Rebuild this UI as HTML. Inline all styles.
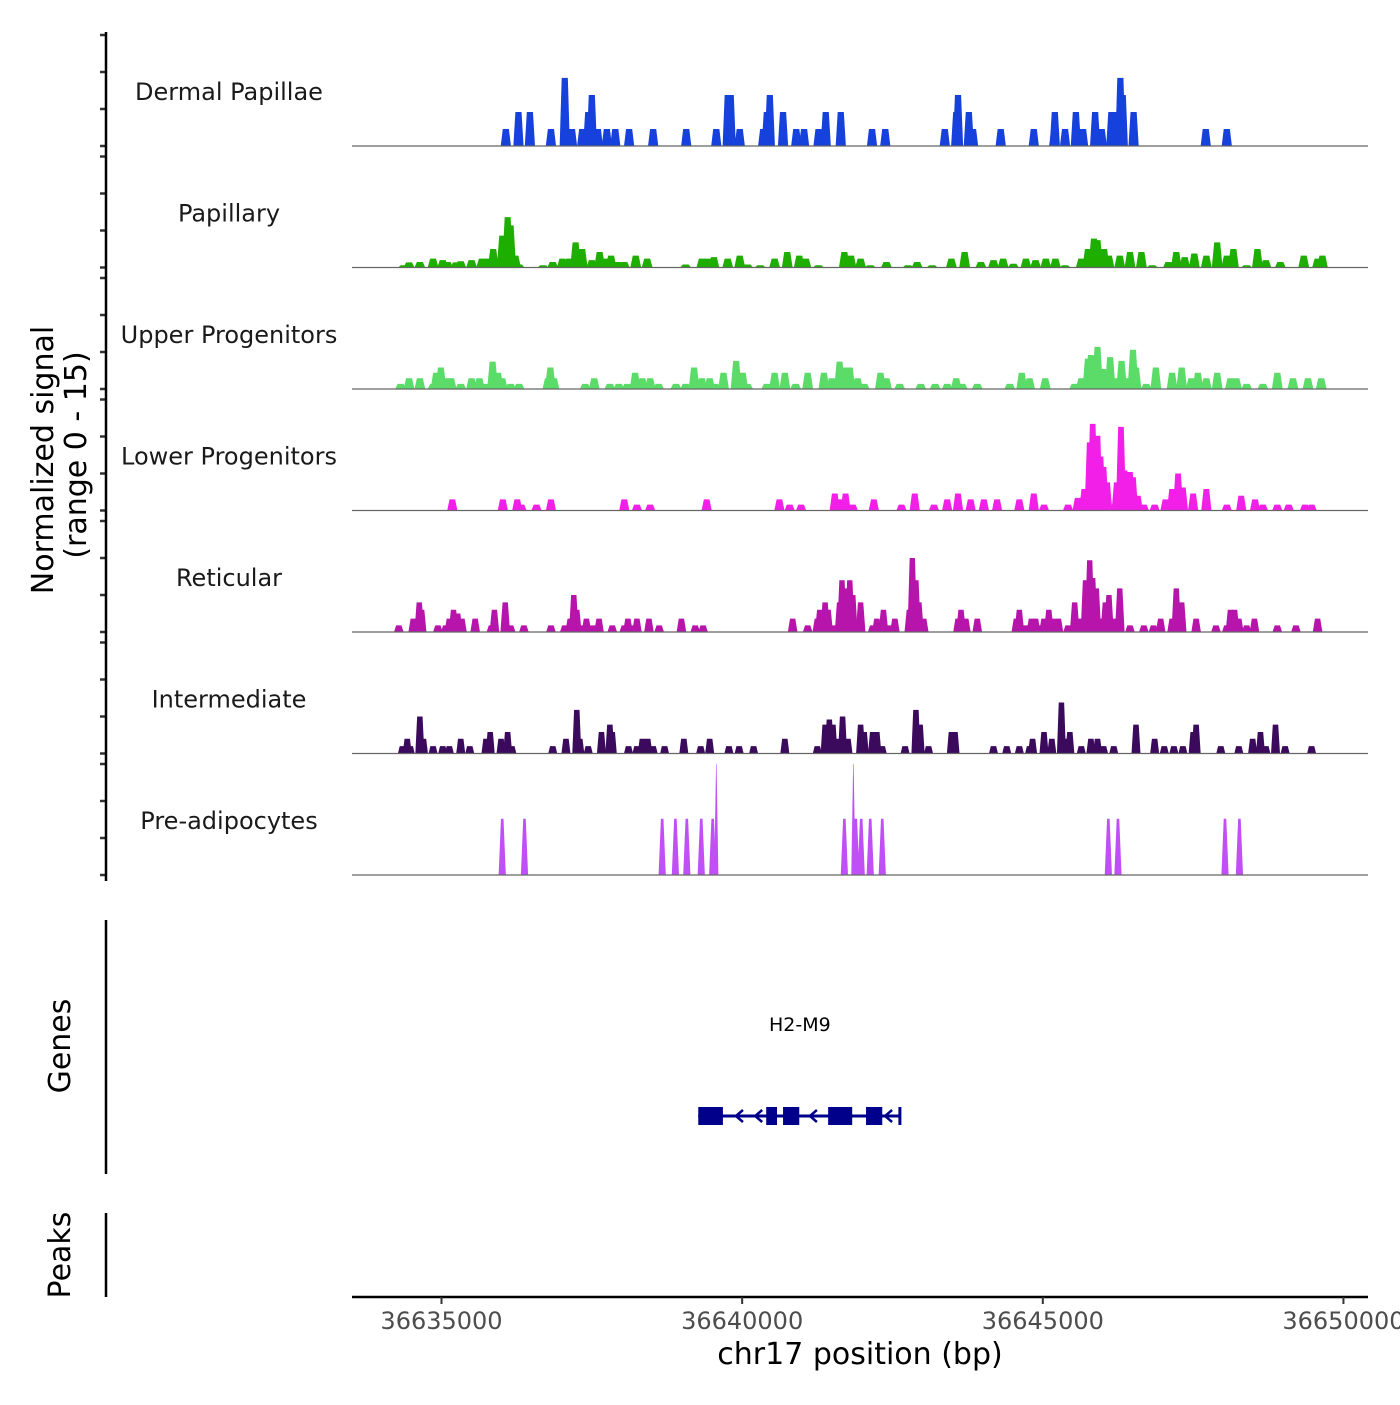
<!DOCTYPE html>
<html><head><meta charset="utf-8"><style>
html,body{margin:0;padding:0;background:#fff}
svg text{font-family:"DejaVu Sans","Liberation Sans",sans-serif}
</style></head><body>
<svg id="chart" xmlns="http://www.w3.org/2000/svg" width="1400" height="1400" viewBox="0 0 1400 1400">
<g id="tracks"></g>
<g id="yaxis"></g>
<text transform="translate(53,460) rotate(-90)" text-anchor="middle" font-size="30" fill="#000">Normalized signal</text>
<text transform="translate(86,455) rotate(-90)" text-anchor="middle" font-size="30" fill="#000">(range 0 - 15)</text>
<line x1="106" y1="920" x2="106" y2="1174" stroke="#000" stroke-width="2.5"/>
<text transform="translate(70,1046) rotate(-90)" text-anchor="middle" font-size="30">Genes</text>
<line x1="106" y1="1213" x2="106" y2="1297" stroke="#000" stroke-width="2.5"/>
<text transform="translate(70,1255) rotate(-90)" text-anchor="middle" font-size="30">Peaks</text>
<g id="gene"></g>
<g id="xaxis"></g>
<text x="860" y="1364" text-anchor="middle" font-size="30">chr17 position (bp)</text>
</svg>
<script>
const BASE = 36600000;
const xTicks = [36635000, 36640000, 36645000, 36650000];
const trackNames = ["Dermal Papillae","Papillary","Upper Progenitors","Lower Progenitors","Reticular","Intermediate","Pre-adipocytes"];
const trackColors = ["#1641dc","#1eae00","#5bdc68","#f21fe8","#b614aa","#3c0a5c","#c050f5"];
const yTicks = [0,5,10,15];

const dpPos = [36.07,36.28,36.47,36.82,37.05,37.17,37.34,37.44,37.50,37.60,37.75,37.89,38.12,38.52,39.07,39.57,39.76,39.81,39.96,40.35,40.41,40.46,40.68,40.90,41.03,41.27,41.39,41.64,42.16,42.38,43.37,43.56,43.59,43.77,43.84,44.30,44.85,45.19,45.20,45.37,45.55,45.67,45.87,45.98,46.14,46.23,46.29,46.33,46.51,47.71,48.06];
const dpVal = [2.3,4.6,4.6,2.3,9.2,2.3,2.3,4.6,6.9,2.3,2.3,2.3,2.3,2.3,2.3,2.3,6.9,6.9,2.3,2.3,4.6,6.9,4.6,2.3,2.3,2.3,4.6,4.6,2.3,2.3,2.3,4.6,6.9,4.6,2.3,2.3,2.3,2.3,4.6,2.3,4.6,2.3,4.6,2.3,4.6,4.6,9.2,6.9,4.6,2.3,2.3];

const papPos = [34.37,34.46,34.64,34.86,35.02,35.10,35.24,35.32,35.50,35.67,35.77,35.86,36.01,36.10,36.15,36.23,36.29,36.69,36.85,37.01,37.12,37.23,37.34,37.50,37.63,37.71,37.82,37.93,38.04,38.23,38.42,39.06,39.33,39.42,39.53,39.76,39.96,40.09,40.30,40.54,40.75,40.95,41.06,41.27,41.70,41.81,41.97,42.13,42.40,42.76,42.91,43.16,43.48,43.70,43.97,44.18,44.34,44.51,44.72,44.88,45.05,45.21,45.37,45.64,45.75,45.85,45.91,46.02,46.10,46.28,46.45,46.64,46.82,47.09,47.22,47.36,47.52,47.72,47.90,48.06,48.17,48.39,48.57,48.71,48.95,49.34,49.57,49.65];
const papVal = [0.3,0.7,0.75,1.2,1.0,0.75,0.7,0.85,1.0,1.2,1.2,2.5,4.3,6.8,5.7,1.6,0.4,0.3,0.75,1.2,1.2,3.4,2.5,1.0,2.1,1.2,1.6,0.75,0.75,1.6,1.2,0.4,1.2,1.2,1.4,1.2,1.6,0.4,0.3,1.2,2.1,1.6,1.2,0.3,2.1,1.6,1.2,0.3,0.75,0.3,0.75,0.3,1.2,2.1,0.75,1.0,1.2,0.5,1.2,1.0,1.2,1.2,0.3,1.2,2.5,3.9,3.7,2.5,1.6,1.6,2.1,2.1,0.3,0.75,2.1,1.4,1.9,1.6,3.4,1.6,2.5,0.3,2.5,1.0,0.75,1.6,1.2,1.6];

const upPos = [34.32,34.46,34.64,34.86,34.91,34.99,35.07,35.16,35.32,35.50,35.63,35.72,35.85,35.94,36.01,36.15,36.29,36.77,36.81,36.87,37.39,37.54,37.80,37.95,38.09,38.22,38.34,38.47,38.61,38.90,39.06,39.20,39.33,39.46,39.55,39.69,39.90,40.01,40.09,40.41,40.54,40.71,40.89,41.09,41.36,41.49,41.62,41.70,41.79,41.92,42.03,42.30,42.40,42.62,42.97,43.21,43.41,43.56,43.66,43.91,44.45,44.65,44.78,45.04,45.53,45.64,45.75,45.80,45.91,46.00,46.12,46.23,46.31,46.41,46.50,46.55,46.72,46.88,47.15,47.31,47.47,47.58,47.72,47.90,48.12,48.22,48.39,48.66,48.90,49.16,49.41,49.63];
const upVal = [0.7,1.45,1.45,0.7,2.2,2.9,1.45,1.45,0.7,1.45,1.45,0.7,3.7,2.2,1.45,0.7,0.7,1.45,2.9,1.45,0.7,1.45,0.7,0.7,0.7,2.2,1.45,1.45,0.7,0.7,0.7,2.9,1.45,1.45,0.7,2.2,3.8,2.2,0.7,0.7,2.2,2.2,0.7,2.2,2.2,1.45,3.7,2.9,2.9,1.45,0.7,2.2,1.45,0.7,0.7,0.7,0.7,1.45,0.7,0.7,0.7,2.2,1.45,1.45,0.7,1.45,4.1,4.6,5.7,2.7,4.3,1.45,3.8,1.45,5.3,2.9,0.7,2.9,2.2,2.9,1.45,2.2,1.45,2.2,1.45,1.45,0.7,0.7,2.2,1.45,1.45,1.45];

const lowPos = [35.18,36.02,36.26,36.33,36.58,36.82,38.04,38.25,38.47,39.41,40.62,40.79,40.98,41.54,41.62,41.72,41.84,42.19,42.65,42.87,43.19,43.41,43.59,43.80,44.02,44.24,44.61,44.85,45.02,45.42,45.58,45.69,45.78,45.83,45.91,45.96,46.01,46.07,46.14,46.23,46.30,46.36,46.45,46.50,46.58,46.68,46.86,47.04,47.15,47.25,47.33,47.50,47.72,48.06,48.30,48.53,48.66,48.90,49.09,49.36,49.47];
const lowVal = [1.5,1.5,1.5,0.8,0.8,1.5,1.5,0.8,0.8,1.5,1.5,0.8,0.8,2.3,1.5,2.3,0.8,1.5,0.8,2.3,0.8,1.5,2.3,1.5,1.5,1.5,1.5,2.3,0.8,0.8,1.7,2.9,9.2,11.7,10.1,7.3,5.9,3.8,0.8,3.8,11.3,5.4,5.2,4.5,2.0,0.8,0.8,1.5,2.9,5.0,3.1,2.3,2.9,0.8,2.0,1.5,0.8,0.8,0.8,0.8,0.8];

const retPos = [34.29,34.53,34.63,34.67,34.94,35.07,35.13,35.20,35.27,35.34,35.56,35.83,35.88,36.06,36.15,36.37,36.82,37.05,37.14,37.20,37.25,37.36,37.41,37.52,37.62,37.84,38.04,38.10,38.17,38.25,38.45,38.62,38.99,39.22,39.35,40.84,41.09,41.25,41.29,41.38,41.43,41.54,41.62,41.66,41.72,41.79,41.84,41.97,42.17,42.24,42.35,42.46,42.54,42.78,42.83,42.89,42.94,43.02,43.59,43.64,43.72,43.91,44.56,44.61,44.72,44.81,44.88,44.94,45.02,45.10,45.17,45.26,45.42,45.53,45.64,45.71,45.78,45.83,45.89,45.96,46.04,46.10,46.18,46.28,46.45,46.68,46.84,46.96,47.15,47.22,47.31,47.55,47.88,48.06,48.12,48.19,48.26,48.39,48.52,48.90,49.21,49.57];
const retVal = [0.9,1.8,4.0,3.0,0.9,0.9,1.8,3.0,2.5,1.8,1.8,0.9,3.0,4.0,0.9,0.9,0.9,0.9,1.8,5.0,3.0,0.9,1.8,0.9,1.8,0.9,0.9,1.8,0.9,1.8,1.8,0.9,1.8,0.9,0.9,1.8,0.9,1.8,3.0,4.0,3.0,0.9,4.0,7.0,5.9,7.0,5.0,4.0,0.9,1.8,3.0,0.9,1.8,3.0,10.0,7.0,4.0,1.8,1.8,3.0,1.8,1.8,1.8,3.0,0.9,1.8,1.8,0.9,1.8,3.0,1.8,1.8,0.9,4.0,1.8,7.0,9.7,7.3,5.9,1.8,4.0,5.0,1.8,5.9,0.9,0.9,0.9,1.8,1.8,5.9,4.0,1.8,0.9,0.9,3.0,3.0,1.8,0.9,1.8,0.9,0.9,1.8];

const intPos = [34.35,34.43,34.48,34.64,34.70,34.86,35.02,35.13,35.32,35.47,35.74,35.81,35.99,36.10,36.17,36.85,37.07,37.25,37.30,37.44,37.66,37.80,37.84,38.11,38.25,38.34,38.43,38.52,38.71,39.03,39.31,39.46,39.78,39.95,40.19,40.71,41.25,41.38,41.45,41.51,41.60,41.67,41.76,41.97,42.03,42.17,42.24,42.33,42.71,42.89,42.96,43.10,43.48,43.54,44.18,44.40,44.61,44.78,44.83,45.02,45.15,45.31,45.39,45.45,45.64,45.80,45.91,46.01,46.18,46.55,46.86,47.02,47.18,47.33,47.50,47.55,47.96,48.26,48.49,48.62,48.71,48.87,49.03,49.47];
const intVal = [1.0,2.0,1.0,5.0,2.0,1.0,1.0,1.0,2.0,1.0,2.0,2.9,2.0,2.9,1.0,1.0,2.0,5.9,2.0,1.0,2.9,3.9,2.9,1.0,1.0,2.0,2.0,1.0,1.0,2.0,1.0,2.0,1.0,1.0,1.0,2.0,1.0,3.9,4.6,3.9,2.0,5.0,2.0,3.9,2.9,2.9,2.9,1.0,1.0,5.9,3.9,1.0,2.9,2.9,1.0,1.0,1.0,1.0,2.0,2.9,2.0,6.9,2.0,2.9,1.0,2.0,2.0,1.0,1.0,3.9,2.0,1.0,1.0,1.0,2.9,3.9,1.0,1.0,2.0,2.9,1.0,3.9,1.0,1.0];

const prePos = [36.01,36.38,38.67,38.89,39.08,39.32,39.51,39.57,41.70,41.85,41.89,41.98,42.13,42.33,46.09,46.25,48.03,48.27];
const preVal = [7.6,7.6,7.6,7.6,7.6,7.6,7.6,15,7.6,15,7.6,7.6,7.6,7.6,7.6,7.6,7.6,7.6];

const genePosStart = 39.27;
const genePosEnd = 42.64;
const exonStarts = [39.27,40.40,40.68,41.43,42.06];
const exonEnds = [39.68,40.58,40.95,41.83,42.33];
const arrowPos = [39.93,40.25,41.16,42.41];
const geneLabel = "H2-M9";
const geneLabelPos = 40.96;

const trackPos = [dpPos,papPos,upPos,lowPos,retPos,intPos,prePos];
const trackVal = [dpVal,papVal,upVal,lowVal,retVal,intVal,preVal];
const halfW = [0.085,0.09,0.09,0.085,0.08,0.075,0.06];
const topR = [0.6,0.55,0.55,0.55,0.55,0.6,0.35];

const NS="http://www.w3.org/2000/svg";
const X0=441.5, PXBP=0.06013;
function xs(bp){return X0+(bp-36635000)*PXBP;}
function kb(k){return BASE+k*1000;}
const TOP0=146, TH=121.5, UNIT=7.4;
function ys(track,v){return TOP0+track*TH - v*UNIT;}
function mk(tag,attrs,parent){const e=document.createElementNS(NS,tag);for(const k in attrs)e.setAttribute(k,attrs[k]);parent.appendChild(e);return e;}

const tg=document.getElementById('tracks');
const ya=document.getElementById('yaxis');
for(let t=0;t<trackNames.length;t++){
  const g=mk('g',{},tg);
  
  
  const base=ys(t,0);
  const lbl=mk('text',{x:229,y:base-46,'text-anchor':'middle','font-size':24,fill:'#1a1a1a'},g);
  lbl.textContent=trackNames[t];
  
  
  const pos=trackPos[t], val=trackVal[t];
  for(let i=0;i<pos.length;i++){
    const c=pos[i], v=val[i];
    const spike=(v>=12&&t===6);
    const hw=spike?0.035:halfW[t];
    const top=spike?0.004:hw*topR[t];
    const x1=xs(kb(c-hw)),x2=xs(kb(c-top)),x3=xs(kb(c+top)),x4=xs(kb(c+hw));
    const y=ys(t,v);
    const p=mk('path',{d:`M${x1},${base}L${x2},${y}L${x3},${y}L${x4},${base}Z`,fill:trackColors[t]},g);
    
    
  }
  const bl=mk('line',{x1:352,y1:base,x2:1368,y2:base,stroke:'#666','stroke-width':1.2},g);
  
  
  for(const tv of yTicks){
    const tk=mk('line',{x1:100,x2:106,y1:ys(t,tv),y2:ys(t,tv),stroke:'#333','stroke-width':2.5},ya);
    
    
  }
}
const yl=mk('line',{x1:106,y1:32,x2:106,y2:881,stroke:'#000','stroke-width':2.5},ya);



const gg=document.getElementById('gene');
const GY=1116;
const gl=mk('line',{x1:xs(kb(genePosStart)),x2:xs(kb(genePosEnd)),y1:GY,y2:GY,stroke:'#00008b','stroke-width':3},gg);


for(let i=0;i<exonStarts.length;i++){
  const r=mk('rect',{x:xs(kb(exonStarts[i])),y:GY-9,width:xs(kb(exonEnds[i]))-xs(kb(exonStarts[i])),height:18,fill:'#00008b'},gg);
  
  
}
for(const a of arrowPos){
  const x=xs(kb(a));
  const ar=mk('path',{d:`M${x+5},${GY-6}L${x-2},${GY}L${x+5},${GY+6}`,fill:'none',stroke:'#00008b','stroke-width':2.5},gg);
  
  
}
const endT=mk('line',{x1:xs(kb(genePosEnd))-1,x2:xs(kb(genePosEnd))-1,y1:GY-9,y2:GY+9,stroke:'#00008b','stroke-width':3},gg);


const glb=mk('text',{x:xs(kb(geneLabelPos)),y:1031,'text-anchor':'middle','font-size':19,fill:'#000'},gg);
glb.textContent=geneLabel;



const xa=document.getElementById('xaxis');
const xl=mk('line',{x1:352,x2:1368,y1:1297,y2:1297,stroke:'#000','stroke-width':2.5},xa);


for(const v of xTicks){
  const tk=mk('line',{x1:xs(v),x2:xs(v),y1:1297,y2:1304,stroke:'#333','stroke-width':2},xa);
  
  
  const tl=mk('text',{x:xs(v),y:1329,'text-anchor':'middle','font-size':24,fill:'#4d4d4d'},xa);
  tl.textContent=String(v);
  
  
}
</script>
</body></html>
